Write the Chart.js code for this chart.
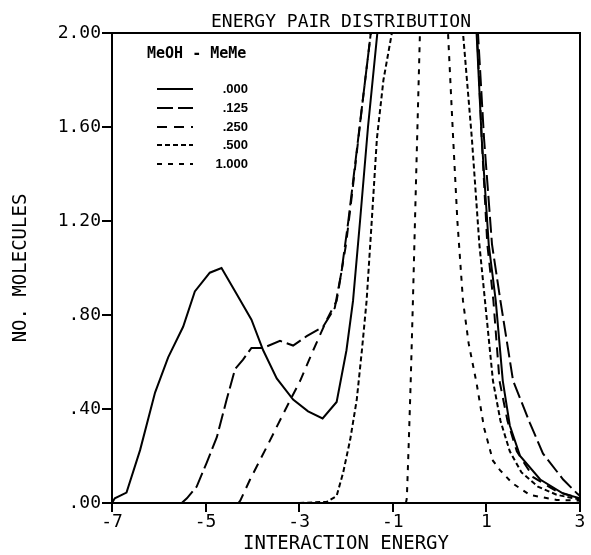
<!DOCTYPE html>
<html>
<head>
<meta charset="utf-8">
<script src="https://cdn.jsdelivr.net/npm/chart.js@4/dist/chart.umd.min.js"></script>
<style>
    body { margin: 0; background: #fff; }
    #wrap { width: 591px; height: 555px; }
</style>
</head>
<body>
<div id="wrap"><canvas id="myChart" width="591" height="555"></canvas></div>
<script>
// tick values and their printed labels
const xTicks = [-7, -5, -3, -1, 1, 3];
const xTickLabels = ['-7', '-5', '-3', '-1', '1', '3'];
const yTicks = [0, 0.4, 0.8, 1.2, 1.6, 2.0];
const yTickLabels = ['.00', '.40', '.80', '1.20', '1.60', '2.00'];

// mole fractions (legend)
const fractions = ['.000', '.125', '.250', '.500', '1.000'];

// interaction energy (x) and number of molecules (y) per curve
const energy000 = [-7.0, -6.94, -6.69, -6.40, -6.08, -5.80, -5.48, -5.23, -4.91, -4.66, -4.34, -4.02, -3.77, -3.48, -3.13, -2.81, -2.50, -2.20, -1.99, -1.85, -1.70, -1.53, -1.33, -0.3, 0.79, 0.90, 1.05, 1.20, 1.35, 1.50, 1.72, 2.15, 2.64, 3.0];
const count000 = [0, 0.02, 0.044, 0.225, 0.47, 0.62, 0.75, 0.90, 0.98, 1.00, 0.89, 0.78, 0.65, 0.53, 0.44, 0.39, 0.36, 0.43, 0.65, 0.86, 1.2, 1.6, 2.0, 3.0, 2.0, 1.55, 1.1, 0.86, 0.52, 0.33, 0.20, 0.10, 0.04, 0.02];

const energy125 = [-5.51, -5.40, -5.19, -4.98, -4.76, -4.55, -4.37, -4.20, -4.02, -3.77, -3.41, -3.13, -2.84, -2.49, -2.24, -2.10, -1.95, -1.80, -1.62, -1.47, -0.3, 0.82, 0.95, 1.12, 1.30, 1.57, 1.93, 2.21, 2.64, 2.94, 3.0];
const count125 = [0, 0.02, 0.07, 0.17, 0.28, 0.44, 0.57, 0.61, 0.66, 0.66, 0.69, 0.67, 0.71, 0.75, 0.83, 0.98, 1.2, 1.45, 1.75, 2.0, 3.0, 2.0, 1.55, 1.1, 0.86, 0.52, 0.34, 0.21, 0.10, 0.04, 0.03];

const energy250 = [-4.30, -4.26, -4.05, -3.69, -3.34, -2.98, -2.70, -2.41, -2.20, -2.00, -1.85, -1.65, -1.47, -0.3, 0.80, 0.90, 1.02, 1.15, 1.28, 1.45, 1.65, 2.00, 2.50, 3.0];
const count250 = [0, 0.01, 0.10, 0.24, 0.38, 0.52, 0.65, 0.78, 0.86, 1.1, 1.35, 1.7, 2.0, 3.0, 2.0, 1.55, 1.1, 0.86, 0.52, 0.35, 0.22, 0.11, 0.05, 0.02];

const energy500 = [-3.0, -2.41, -2.20, -2.06, -1.91, -1.77, -1.66, -1.56, -1.45, -1.34, -1.20, -1.02, -0.2, 0.50, 0.69, 0.85, 0.97, 1.14, 1.30, 1.50, 1.75, 2.10, 2.50, 3.0];
const count500 = [0, 0.005, 0.03, 0.13, 0.27, 0.44, 0.65, 0.86, 1.2, 1.55, 1.8, 2.0, 2.6, 2.0, 1.55, 1.1, 0.86, 0.52, 0.35, 0.22, 0.13, 0.07, 0.035, 0.015];

const energy1000 = [-0.72, -0.70, -0.66, -0.62, -0.57, -0.50, -0.42, -0.12, 0.18, 0.29, 0.38, 0.50, 0.62, 0.79, 0.95, 1.14, 1.29, 1.55, 1.93, 2.50, 3.0];
const count1000 = [0, 0.02, 0.25, 0.5, 0.86, 1.4, 2.0, 3.5, 2.0, 1.55, 1.2, 0.86, 0.68, 0.51, 0.32, 0.18, 0.14, 0.085, 0.034, 0.013, 0.01];

const dashes = [[], [16, 5], [10, 7], [5, 3], [5, 6]];

function points(xs, ys) {
    return xs.map((x, i) => ({x: x, y: ys[i]}));
}

const series = [
    points(energy000, count000),
    points(energy125, count125),
    points(energy250, count250),
    points(energy500, count500),
    points(energy1000, count1000)
];

const data = {
    datasets: series.map((pts, i) => ({
        label: fractions[i],
        data: pts,
        borderColor: '#000',
        borderWidth: 2,
        borderDash: dashes[i],
        pointRadius: 0,
        fill: false,
        tension: 0
    }))
};

const monoFont = 'DejaVu Sans Mono';

// title, frame and the little legend in the upper left
const decor = {
    id: 'decor',
    afterDatasetsDraw(chart) {
        const ctx = chart.ctx;
        const a = chart.chartArea;
        ctx.save();
        ctx.strokeStyle = '#000';
        ctx.lineWidth = 2;
        ctx.setLineDash([]);
        ctx.beginPath();
        ctx.moveTo(a.left, a.top);
        ctx.lineTo(a.right, a.top);
        ctx.lineTo(a.right, a.bottom);
        ctx.stroke();

        ctx.fillStyle = '#000';
        ctx.font = '18px ' + monoFont;
        ctx.textAlign = 'center';
        ctx.textBaseline = 'alphabetic';
        ctx.fillText('ENERGY PAIR DISTRIBUTION', 341, 27);

        ctx.textAlign = 'left';
        ctx.font = 'bold 15px ' + monoFont;
        ctx.fillText('MeOH - MeMe', 147, 58);

        ctx.font = 'bold 13px Liberation Sans';
        ctx.textAlign = 'right';
        ctx.textBaseline = 'middle';
        const rows = [89, 108, 127, 145, 164];
        fractions.forEach((f, i) => {
            ctx.setLineDash(dashes[i]);
            ctx.beginPath();
            ctx.moveTo(157, rows[i]);
            ctx.lineTo(193, rows[i]);
            ctx.stroke();
            ctx.fillText(f, 248, rows[i]);
        });
        ctx.restore();
    }
};

const config = {
    type: 'line',
    data: data,
    options: {
        responsive: false,
        animation: false,
        devicePixelRatio: 1,
        layout: {padding: {top: 33, right: 11, left: 0, bottom: 0}},
        plugins: {
            legend: {display: false},
            tooltip: {enabled: false}
        },
        scales: {
            x: {
                type: 'linear',
                min: -7,
                max: 3,
                border: {display: true, color: '#000', width: 2},
                grid: {drawOnChartArea: false, drawTicks: true, tickLength: 9, color: '#000', lineWidth: 2},
                afterBuildTicks: (s) => { s.ticks = xTicks.map(v => ({value: v})); },
                afterFit: (s) => { s.height = 52; },
                ticks: {
                    color: '#000',
                    font: {family: monoFont, size: 18},
                    padding: 0,
                    maxRotation: 0,
                    callback: (v) => xTickLabels[xTicks.indexOf(v)]
                },
                title: {
                    display: true,
                    text: 'INTERACTION ENERGY',
                    color: '#000',
                    font: {family: monoFont, size: 19},
                    padding: {top: 0, bottom: 0}
                }
            },
            y: {
                min: 0,
                max: 2,
                border: {display: true, color: '#000', width: 2},
                grid: {drawOnChartArea: false, drawTicks: true, tickLength: 10, color: '#000', lineWidth: 2},
                afterBuildTicks: (s) => { s.ticks = yTicks.map(v => ({value: v})); },
                afterFit: (s) => { s.width = 112; },
                ticks: {
                    color: '#000',
                    font: {family: monoFont, size: 18},
                    padding: 1,
                    callback: (v) => yTickLabels[yTicks.findIndex(t => Math.abs(t - v) < 1e-6)]
                },
                title: {
                    display: true,
                    text: 'NO. MOLECULES',
                    color: '#000',
                    font: {family: monoFont, size: 19},
                    padding: {top: 10, bottom: 0}
                }
            }
        }
    },
    plugins: [decor]
};

let myChart = new Chart(
    document.getElementById('myChart'),
    config
);
</script>
</body>
</html>
